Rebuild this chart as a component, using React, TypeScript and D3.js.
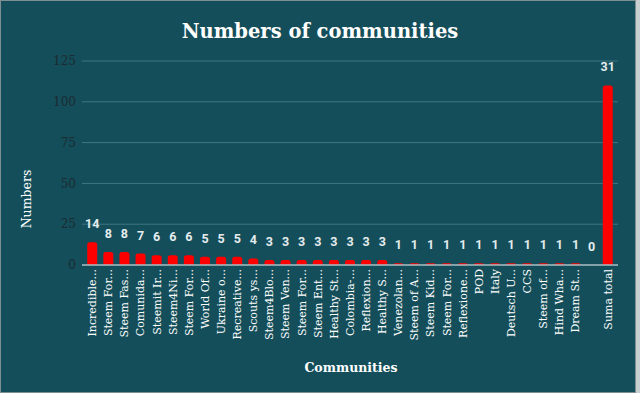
import { useEffect, useRef } from "react";
import * as d3 from "d3";

// categories as shown on the x axis (already truncated in the source chart)
const communities = [
  "Incredible...", "Steem For...", "Steem Fas...", "Comunida...", "Steemit Ir...",
  "Steem4Ni...", "Steem For...", "World Of...", "Ukraine o...", "Recreative...",
  "Scouts ys...", "Steem4Blo...", "Steem Ven...", "Steem For...", "Steem Ent...",
  "Healthy St...", "Colombia-...", "Reflexion...", "Healthy S...", "Venezolan...",
  "Steem of A...", "Steem Kid...", "Steem For...", "Reflexione...", "POD",
  "Italy", "Deutsch U...", "CCS", "Steem of...", "Hind Wha...",
  "Dream St...", "", "Suma total",
];

const numbers = [
  14, 8, 8, 7, 6, 6, 6, 5, 5, 5, 4, 3, 3, 3, 3, 3, 3, 3, 3,
  1, 1, 1, 1, 1, 1, 1, 1, 1, 1, 1, 1, 0, 110,
];

// labels printed above the bars (the total bar shows the community count)
const barLabels = [
  "14", "8", "8", "7", "6", "6", "6", "5", "5", "5", "4", "3", "3", "3", "3", "3", "3", "3", "3",
  "1", "1", "1", "1", "1", "1", "1", "1", "1", "1", "1", "1", "0", "31",
];

const yTicks = [0, 25, 50, 75, 100, 125];

export default function App() {
  const ref = useRef<HTMLDivElement>(null);

  useEffect(() => {
    const container = d3.select(ref.current);
    container.selectAll("*").remove();

    const width = 640, height = 393;
    const bg = "#144e5a";
    const svg = container.append("svg")
      .attr("width", width)
      .attr("height", height)
      .style("position", "absolute")
      .style("left", "0px")
      .style("top", "0px");

    svg.append("rect")
      .attr("width", width)
      .attr("height", height)
      .attr("fill", bg);

    const x = d3.scaleBand<number>()
      .domain(d3.range(communities.length))
      .range([84, 616])
      .paddingInner(0.38)
      .paddingOuter(0.2);

    const y = d3.scaleLinear()
      .domain([0, 125])
      .range([265, 61]);

    // gridlines
    svg.append("g")
      .selectAll("line")
      .data(yTicks.filter(d => d > 0))
      .join("line")
        .attr("x1", 82)
        .attr("x2", 618)
        .attr("y1", d => y(d))
        .attr("y2", d => y(d))
        .attr("stroke", "#3f7782")
        .attr("stroke-width", 1);

    // tick labels
    svg.append("g")
      .selectAll("text")
      .data(yTicks)
      .join("text")
        .attr("x", 76)
        .attr("y", d => y(d))
        .attr("dy", "0.35em")
        .attr("text-anchor", "end")
        .attr("font-family", "'DejaVu Serif', serif")
        .attr("font-size", 12)
        .attr("fill", "#1b2b31")
        .text(d => d);

    // bars with rounded tops
    const r = 2.5;
    svg.append("g")
      .selectAll("path")
      .data(numbers)
      .join("path")
        .attr("d", (d, i) => {
          const x0 = x(i)!, w = x.bandwidth();
          const y0 = y(d), y1 = y(0);
          if (d === 0) return "";
          const rr = Math.min(r, (y1 - y0));
          return `M${x0},${y1}V${y0 + rr}Q${x0},${y0} ${x0 + rr},${y0}H${x0 + w - rr}Q${x0 + w},${y0} ${x0 + w},${y0 + rr}V${y1}Z`;
        })
        .attr("fill", "#ff0000");

    // zero line
    svg.append("line")
      .attr("x1", 82)
      .attr("x2", 618)
      .attr("y1", y(0))
      .attr("y2", y(0))
      .attr("stroke", "#a9bfc4")
      .attr("stroke-width", 1.5);

    // value labels
    svg.append("g")
      .selectAll("text")
      .data(numbers)
      .join("text")
        .attr("x", (d, i) => x(i)! + x.bandwidth() / 2)
        .attr("y", d => y(d) - 14)
        .attr("text-anchor", "middle")
        .attr("font-family", "Roboto, sans-serif")
        .attr("font-weight", "bold")
        .attr("font-size", 12.5)
        .attr("fill", "#e4ecee")
        .text((d, i) => barLabels[i]);

    // category labels
    svg.append("g")
      .selectAll("text")
      .data(communities)
      .join("text")
        .attr("transform", (d, i) => `translate(${x(i)! + x.bandwidth() / 2},269) rotate(-90)`)
        .attr("dy", "0.35em")
        .attr("text-anchor", "end")
        .attr("font-family", "'DejaVu Serif', serif")
        .attr("font-size", 11)
        .attr("fill", "#ffffff")
        .text(d => d);

    // title
    svg.append("text")
      .attr("x", 320)
      .attr("y", 38)
      .attr("text-anchor", "middle")
      .attr("font-family", "'DejaVu Serif', serif")
      .attr("font-weight", "bold")
      .attr("font-size", 19.5)
      .attr("fill", "#ffffff")
      .text("Numbers of communities");

    // axis titles
    svg.append("text")
      .attr("x", 351)
      .attr("y", 372)
      .attr("text-anchor", "middle")
      .attr("font-family", "'DejaVu Serif', serif")
      .attr("font-weight", "bold")
      .attr("font-size", 12.5)
      .attr("fill", "#ffffff")
      .text("Communities");

    svg.append("text")
      .attr("transform", "translate(27,199) rotate(-90)")
      .attr("dy", "0.35em")
      .attr("text-anchor", "middle")
      .attr("font-family", "'DejaVu Serif', serif")
      .attr("font-size", 12.5)
      .attr("fill", "#ffffff")
      .text("Numbers");

    // outer frame
    svg.append("rect")
      .attr("x", 0.5)
      .attr("y", 0.5)
      .attr("width", width - 5)
      .attr("height", height - 1)
      .attr("fill", "none")
      .attr("stroke", "#7d8f93")
      .attr("stroke-width", 1);
    svg.append("rect")
      .attr("x", width - 4)
      .attr("y", 0)
      .attr("width", 4)
      .attr("height", height)
      .attr("fill", "#c9cfd1");
  }, []);

  return <div ref={ref}></div>;
}
